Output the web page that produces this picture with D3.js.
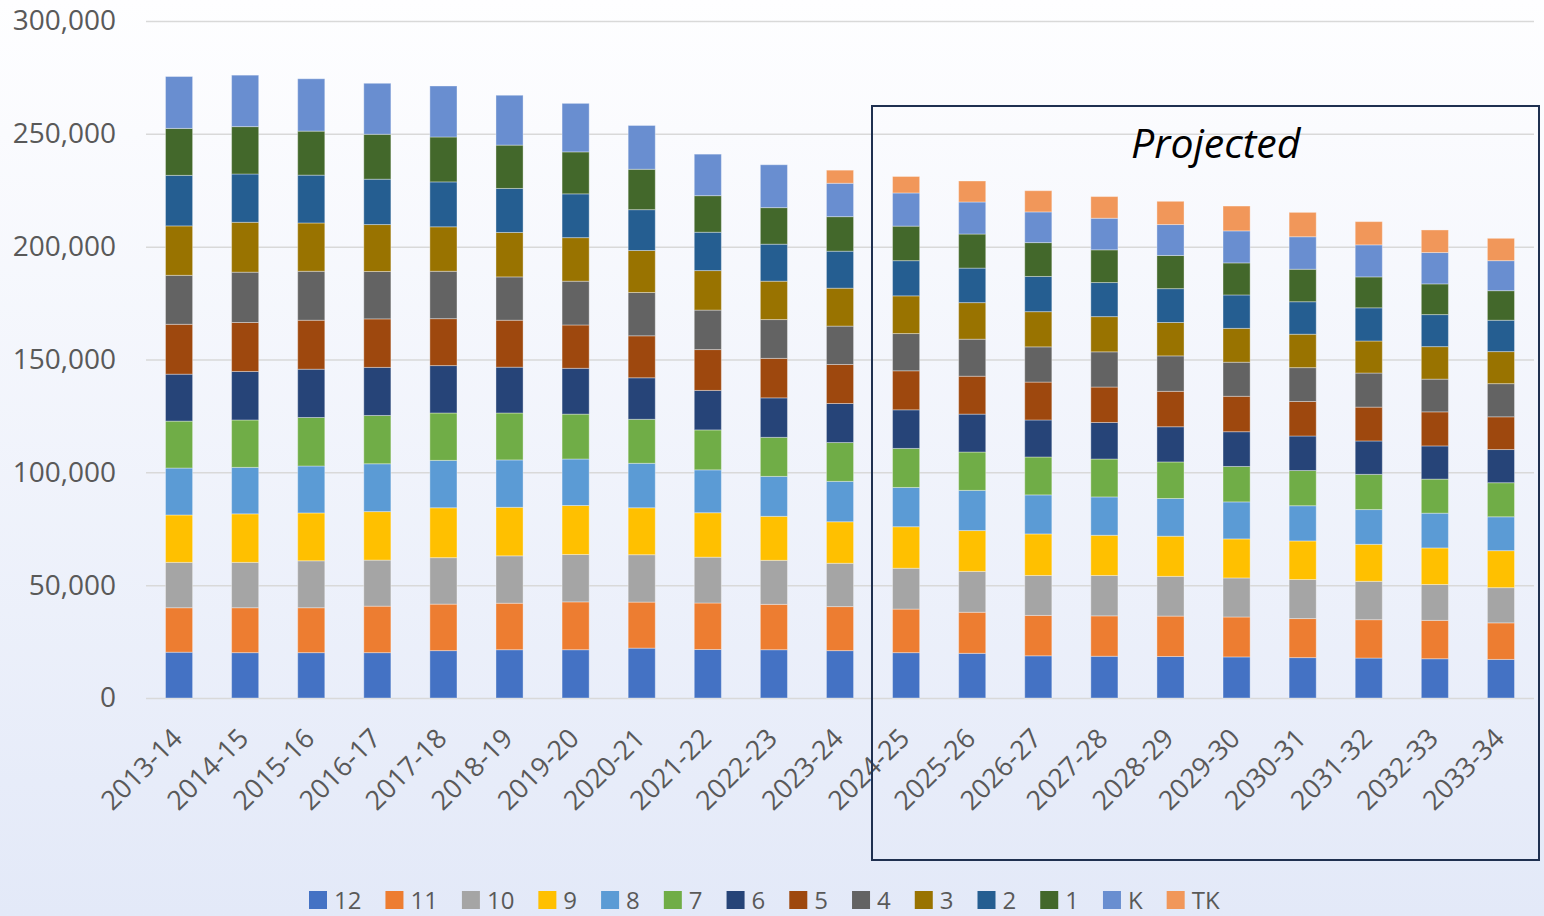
<!DOCTYPE html>
<html>
  <head>
    <script src="https://cdn.jsdelivr.net/npm/d3@7"></script>
    <style>
      body { margin: 0; }
      text { font-family: "Open Sans", sans-serif; }
    </style>
  </head>
  <body>
    <svg id="enrolment" width="1544" height="916"></svg>
    <script>
    var years = ["2013-14","2014-15","2015-16","2016-17","2017-18","2018-19","2019-20",
      "2020-21","2021-22","2022-23","2023-24","2024-25","2025-26","2026-27","2027-28",
      "2028-29","2029-30","2030-31","2031-32","2032-33","2033-34"];

    // enrolment per grade
    var g12 = [20300,20100,20100,20100,21000,21400,21400,22100,21500,21400,21000,20100,19800,18700,18500,18400,18200,17900,17700,17400,17100];
    var g11 = [19700,19900,19900,20600,20600,20600,21200,20400,20600,20100,19500,19300,18200,17900,17900,17900,17700,17300,17000,17000,16200];
    var g10 = [20100,20100,20800,20400,20600,21000,21000,21000,20300,19500,19200,18100,18100,17700,17900,17600,17300,17300,17000,15900,15600];
    var g9  = [21000,21500,21200,21500,22100,21500,21700,20800,19700,19500,18400,18400,18100,18400,17800,17800,17300,17100,16400,16200,16400];
    var g8  = [20800,20600,20800,21200,21000,21000,20600,19700,19000,17700,17900,17400,17800,17300,17000,16700,16400,15600,15400,15400,15000];
    var g7  = [20800,21000,21500,21400,21000,20800,19900,19500,17700,17300,17200,17300,17000,16800,16800,16200,15700,15600,15600,15100,15100];
    var g6  = [20800,21500,21400,21300,21000,20300,20300,18400,17500,17500,17300,17100,16800,16400,16200,15600,15400,15300,14800,14700,14700];
    var g5  = [22100,21700,21700,21500,20800,20800,19200,18600,18100,17500,17300,17300,16800,16800,15700,15700,15700,15300,15000,15100,14500];
    var g4  = [21700,22300,21700,21000,21000,19200,19400,19200,17500,17200,17000,16500,16400,15600,15600,15700,15100,15000,15100,14500,14700];
    var g3  = [21900,22100,21400,20800,19700,19700,19300,18600,17500,17000,16800,16700,16200,15600,15600,14800,15000,14800,14200,14400,14200];
    var g2  = [22400,21400,21200,20100,19900,19500,19400,18100,17000,16400,16400,15600,15300,15600,15100,15000,14800,14400,14700,14200,13900];
    var g1  = [20800,21000,19500,19900,19900,19200,18600,17900,16200,16200,15300,15300,15100,15000,14500,14700,14200,14400,13700,13600,13100];
    var gK  = [23000,22800,23200,22600,22600,22100,21500,19400,18400,19000,14800,14700,14200,13600,14000,13700,14200,14400,14200,13900,13300];
    var gTK = [0,0,0,0,0,0,0,0,0,0,5800,7300,9300,9400,9600,10300,11000,10800,10300,10000,9900];

    var seriesNames = ["12","11","10","9","8","7","6","5","4","3","2","1","K","TK"];
    var seriesValues = [g12,g11,g10,g9,g8,g7,g6,g5,g4,g3,g2,g1,gK,gTK];
    var seriesColours = ["#4472C4","#ED7D31","#A5A5A5","#FFC000","#5B9BD5","#70AD47",
      "#264478","#9E480E","#636363","#997300","#255E91","#43682B","#698ED0","#F1975A"];
    var yTicks = [0,50000,100000,150000,200000,250000,300000];

    var rows = years.map(function(y, i){
      var row = {year: y};
      seriesNames.forEach(function(s, j){ row[s] = seriesValues[j][i]; });
      return row;
    });

    var svg = d3.select("#enrolment");

    var grad = svg.append("defs").append("linearGradient")
      .attr("id", "bg").attr("x1", 0).attr("y1", 0).attr("x2", 0).attr("y2", 1);
    grad.append("stop").attr("offset", "0%").attr("stop-color", "#fefeff");
    grad.append("stop").attr("offset", "100%").attr("stop-color", "#e3e9f8");
    svg.append("rect").attr("width", 1544).attr("height", 916).attr("fill", "url(#bg)");

    var x = d3.scaleBand().domain(years).range([146, 1534])
      .paddingInner(0.59).paddingOuter(0.295);
    var y = d3.scaleLinear().domain([0, 300000]).range([698, 21]);
    var colour = d3.scaleOrdinal().domain(seriesNames).range(seriesColours);

    // gridlines + y labels
    var yAxis = svg.append("g")
      .attr("transform", "translate(146,0)")
      .call(d3.axisLeft(y).tickValues(yTicks).tickFormat(d3.format(","))
        .tickSize(-(1534 - 146)).tickPadding(30));
    yAxis.select(".domain").remove();
    yAxis.selectAll("line").attr("stroke", "#d9d9d9").attr("stroke-width", 1.5);
    yAxis.selectAll("text").attr("fill", "#595959").style("font-size", "28px");

    var stacked = d3.stack().keys(seriesNames)(rows);

    svg.append("g").selectAll("g")
      .data(stacked)
      .enter().append("g")
      .attr("fill", function(d){ return colour(d.key); })
      .selectAll("rect")
      .data(function(d){ return d.filter(function(p){ return p[1] > p[0]; }); })
      .enter().append("rect")
      .attr("x", function(d){ return x(d.data.year); })
      .attr("y", function(d){ return y(d[1]); })
      .attr("width", x.bandwidth())
      .attr("height", function(d){ return y(d[0]) - y(d[1]); })
      .attr("stroke", "#ffffff").attr("stroke-opacity", 0.35).attr("stroke-width", 1);

    // x labels
    var xAxis = svg.append("g")
      .attr("transform", "translate(0,698)")
      .call(d3.axisBottom(x).tickSize(0));
    xAxis.select(".domain").remove();
    xAxis.selectAll("text")
      .attr("x", 0).attr("y", 0).attr("dy", 0)
      .attr("text-anchor", "end")
      .attr("transform", "translate(5,42) rotate(-45)")
      .attr("fill", "#595959")
      .style("font-size", "27px");

    // projected box
    svg.append("rect")
      .attr("x", 872).attr("y", 106).attr("width", 667).attr("height", 754)
      .attr("fill", "none").attr("stroke", "#1f3050").attr("stroke-width", 2);
    svg.append("text")
      .attr("x", 1131).attr("y", 158)
      .style("font-size", "41px").style("font-style", "italic")
      .attr("fill", "#000")
      .text("Projected");

    // legend
    var legend = svg.append("g");
    var lx = 309;
    seriesNames.forEach(function(s){
      legend.append("rect").attr("x", lx).attr("y", 891).attr("width", 18).attr("height", 18)
        .attr("fill", colour(s));
      var t = legend.append("text").attr("x", lx + 25).attr("y", 909)
        .attr("fill", "#595959").style("font-size", "24px").text(s);
      lx += 25 + t.node().getComputedTextLength() + 24;
    });
    </script>
  </body>
</html>
